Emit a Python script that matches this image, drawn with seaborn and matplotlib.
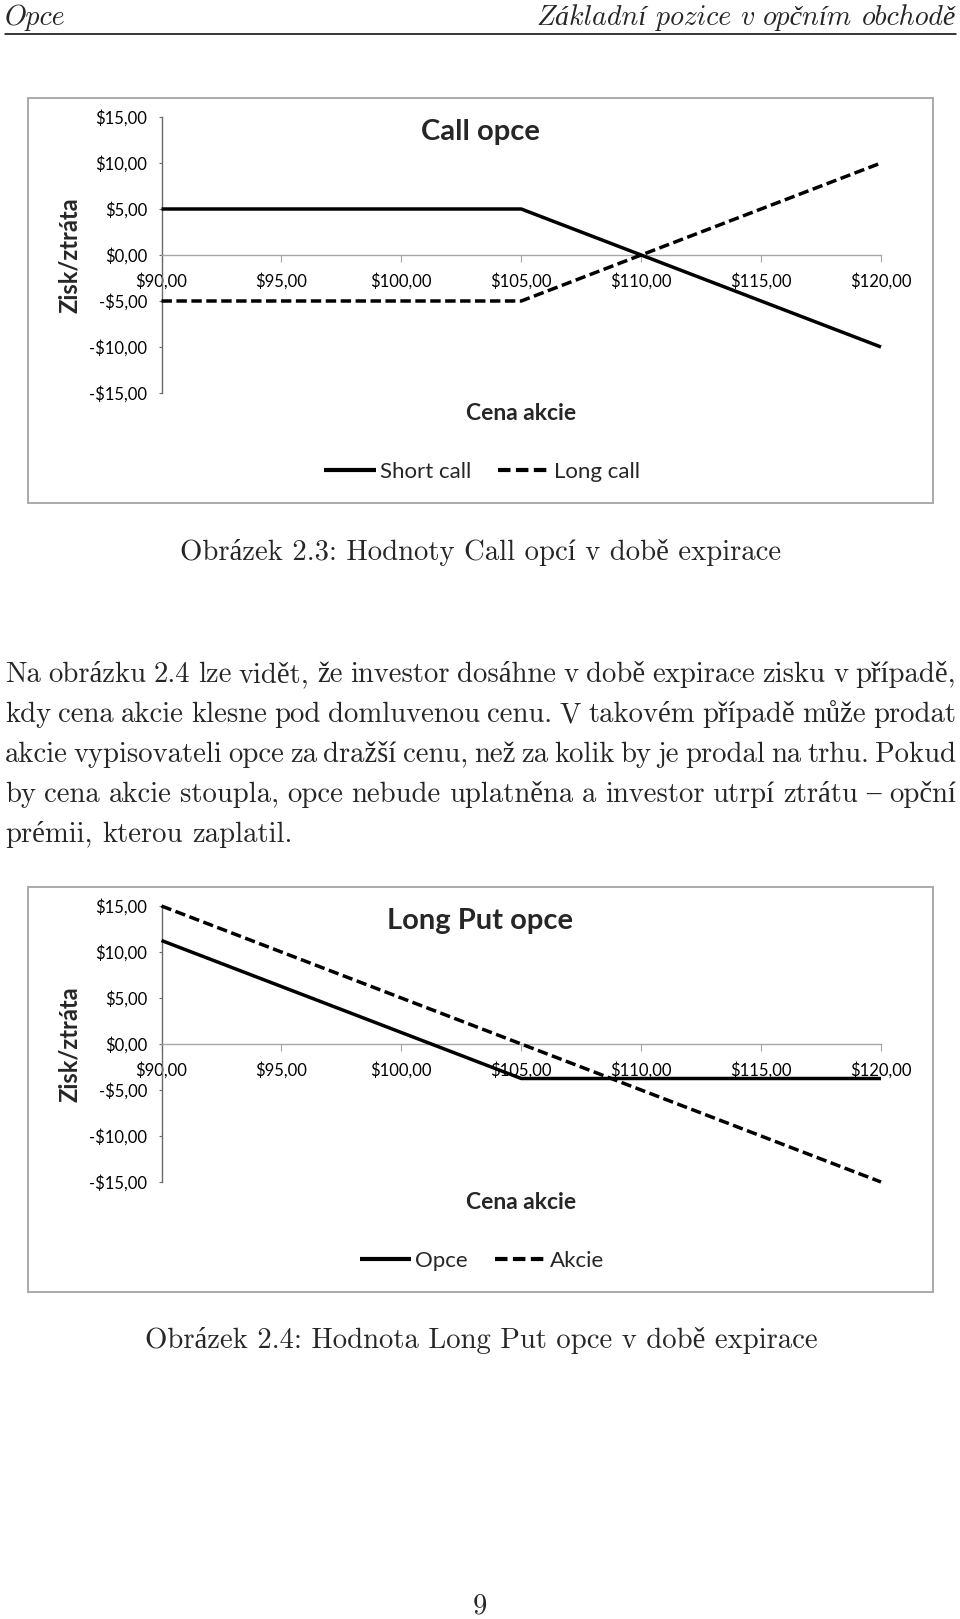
import numpy as np
import pandas as pd
import matplotlib
matplotlib.use("Agg")
import matplotlib.pyplot as plt
import seaborn as sns
from matplotlib.patches import Rectangle

# ---------------- data ----------------
prices = [90, 95, 100, 105, 110, 115, 120]
short_call = [5, 5, 5, 5, 0, -5, -10]
long_call = [-5, -5, -5, -5, 0, 5, 10]
put_opce = [11.25, 6.25, 1.25, -3.75, -3.75, -3.75, -3.75]
put_akcie = [15, 10, 5, 0, -5, -10, -15]
y_ticks = [-15, -10, -5, 0, 5, 10, 15]

chart1_title = "Call opce"
chart1_series = ["Short call", "Long call"]
chart2_title = "Long Put opce"
chart2_series = ["Opce", "Akcie"]
x_label = "Cena akcie"
y_label = "Zisk/ztráta"

header_left = "Opce"
header_right = "Základní pozice v opčním obchodě"
caption1 = "Obrázek 2.3: Hodnoty Call opcí v době expirace"
caption2 = "Obrázek 2.4: Hodnota Long Put opce v době expirace"
paragraph = [
    "Na obrázku 2.4 lze vidět, že investor dosáhne v době expirace zisku v případě,",
    "kdy cena akcie klesne pod domluvenou cenu. V takovém případě může prodat",
    "akcie vypisovateli opce za dražší cenu, než za kolik by je prodal na trhu. Pokud",
    "by cena akcie stoupla, opce nebude uplatněna a investor utrpí ztrátu – opční",
    "prémii, kterou zaplatil.",
]
page_number = "9"

# ---------------- setup ----------------
sns.set_theme(style="white")
plt.rcParams["font.family"] = ["Lato", "DejaVu Sans"]

W, H = 960, 1619
fig = plt.figure(figsize=(W / 100, H / 100), dpi=100)
fig.patch.set_facecolor("white")
renderer = fig.canvas.get_renderer()


def fx(x):
    return x / W


def fy(y):
    return 1 - y / H


SERIF = ["cmr10", "Liberation Serif", "DejaVu Serif"]
SERIF_IT = ["cmmi10", "Liberation Serif", "DejaVu Serif"]


def text_width(s, family, fs, style="normal"):
    t = fig.text(0, 0, s, family=family, fontsize=fs, style=style)
    w = t.get_window_extent(renderer).width
    t.remove()
    return w


BODY_FS = 16.0 * 600 / text_width(caption1, SERIF, 16.0)
SPACE_W = text_width("a a", SERIF, BODY_FS) - text_width("aa", SERIF, BODY_FS)


def place_words(words, x0, by, family, fs, style="normal", gap=None, right=None):
    texts = [fig.text(0, fy(by), w, ha="left", va="baseline",
                      family=family, fontsize=fs, style=style) for w in words]
    widths = [t.get_window_extent(renderer).width for t in texts]
    if gap is None:
        gap = (right - x0 - sum(widths)) / (len(words) - 1)
    total = sum(widths) + gap * (len(words) - 1)
    if x0 is None:
        x0 = right - total
    x = x0
    for t, w in zip(texts, widths):
        t.set_x(fx(x))
        x += w + gap
    return total


def money(v):
    s = f"${abs(v):.2f}".replace(".", ",")
    return ("-" + s) if v < 0 else s


def draw_chart(off, title, names, series_a, series_b):
    fig.add_artist(Rectangle((fx(28), fy(503 + off)), fx(933) - fx(28),
                             fy(98 + off) - fy(503 + off), transform=fig.transFigure,
                             fill=False, edgecolor="#aaaaaa", linewidth=1.4))
    ax = fig.add_axes([fx(161.5), fy(393 + off), (881 - 161.5) / W, (393 - 117) / H])
    df = pd.DataFrame({
        "price": prices * 2,
        "value": list(series_a) + list(series_b),
        "series": [names[0]] * len(prices) + [names[1]] * len(prices),
    })
    sns.lineplot(data=df, x="price", y="value", style="series",
                 dashes={names[0]: "", names[1]: (3, 1.3)},
                 color="black", linewidth=2.5, ax=ax, sort=False)
    for ln in ax.get_lines():
        ln.set_clip_on(False)
        ln.set_zorder(4)
        ln.set_solid_capstyle("butt")
        ln.set_dash_capstyle("butt")
    handles, labels = ax.get_legend_handles_labels()
    if ax.get_legend() is not None:
        ax.get_legend().remove()
    ax.set_xlim(90, 120)
    ax.set_ylim(-15, 15)
    ax.set_xticks(prices)
    ax.set_xticklabels([money(p) for p in prices])
    ax.set_yticks(y_ticks)
    ax.set_yticklabels([money(v) for v in y_ticks])
    ax.set_xlabel("")
    ax.set_ylabel("")
    for s in ["top", "right"]:
        ax.spines[s].set_visible(False)
    ax.spines["bottom"].set_position(("data", 0))
    ax.spines["bottom"].set_color("#a6a6a6")
    ax.spines["bottom"].set_linewidth(1.0)
    ax.spines["left"].set_color("#6a6a6a")
    ax.spines["left"].set_linewidth(1.0)
    ax.tick_params(axis="x", direction="out", length=5, width=0.8, color="#a6a6a6",
                   pad=7.5, labelsize=12, labelcolor="black", bottom=True)
    ax.tick_params(axis="y", direction="out", length=2.5, width=0.8, color="#6a6a6a",
                   pad=8, labelsize=12, labelcolor="black", left=True)
    ax.grid(False)
    ax.patch.set_alpha(0)

    fig.text(fx(480), fy(132 + off), title, ha="center", va="center",
             fontsize=21, fontweight="bold")
    fig.text(fx(521), fy(413 + off), x_label, ha="center", va="center",
             fontsize=16.5, fontweight="bold")
    fig.text(fx(69), fy(255 + off), y_label, ha="center", va="center",
             rotation=90, fontsize=17, fontweight="bold")
    leg = fig.legend(handles, labels, loc="center",
                     bbox_to_anchor=(fx(482), fy(472 + off)), ncol=2, frameon=False,
                     fontsize=16, handlelength=2.3, handletextpad=0.2,
                     columnspacing=1.2, borderpad=0)
    for h in leg.legend_handles:
        h.set_color("black")
        h.set_linewidth(3)


draw_chart(0, chart1_title, chart1_series, short_call, long_call)
draw_chart(789, chart2_title, chart2_series, put_opce, put_akcie)

# ---------------- page text ----------------
# running header (italic), words placed with an explicit space
head_words = header_right.split(" ")
probe = [text_width(w, SERIF_IT, 16.0, "italic") for w in head_words]
sp16 = SPACE_W * 16.0 / BODY_FS
HEAD_FS = 16.0 * 419 / (sum(probe) + sp16 * (len(head_words) - 1))
head_gap = SPACE_W * HEAD_FS / BODY_FS
place_words([header_left], 5, 25, SERIF_IT, HEAD_FS, style="italic", gap=0)
place_words(head_words, None, 25, SERIF_IT, HEAD_FS, style="italic",
            gap=head_gap, right=956)
fig.add_artist(plt.Line2D([fx(5), fx(956)], [fy(34), fy(34)], color="black",
                          linewidth=1.1, transform=fig.transFigure))

fig.text(fx(481), fy(560), caption1, ha="center", va="baseline",
         family=SERIF, fontsize=BODY_FS)
fig.text(fx(481), fy(1348), caption2, ha="center", va="baseline",
         family=SERIF, fontsize=BODY_FS)
fig.text(fx(480), fy(1613), page_number, ha="center", va="baseline",
         family=SERIF, fontsize=BODY_FS)

# justified paragraph
baselines = [682, 722, 762, 802, 842]
for i, (line, by) in enumerate(zip(paragraph, baselines)):
    words = line.split(" ")
    if i == len(paragraph) - 1:
        place_words(words, 5, by, SERIF, BODY_FS, gap=SPACE_W)
    else:
        place_words(words, 5, by, SERIF, BODY_FS, right=956)

fig.savefig("out.png", dpi=100)
